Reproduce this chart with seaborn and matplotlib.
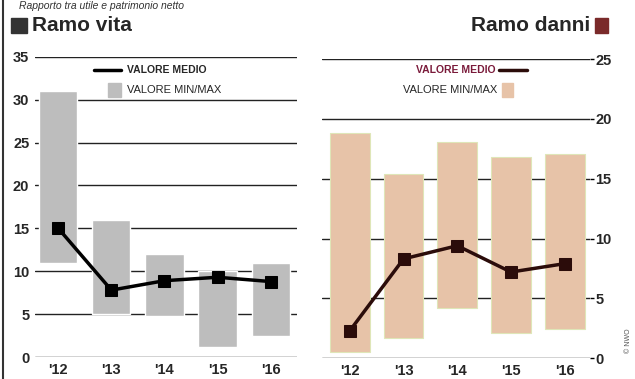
import numpy as np
import matplotlib
matplotlib.use('Agg')
import matplotlib.pyplot as plt
import seaborn as sns

# dati
anni = ["'12", "'13", "'14", "'15", "'16"]
vita_min = [11, 5, 4.8, 1.2, 2.5]
vita_max = [31, 16, 12, 10, 11]
vita_medio = [15, 7.8, 8.9, 9.3, 8.8]
danni_min = [0.5, 1.7, 4.2, 2.1, 2.4]
danni_max = [18.8, 15.4, 18.1, 16.8, 17.1]
danni_medio = [2.3, 8.3, 9.4, 7.2, 7.9]

sns.set_style('white')
plt.rcParams['font.family'] = ['Liberation Sans', 'DejaVu Sans']

grigio = '#bdbdbd'
beige = '#e7c3a8'
marrone = '#2b0c0a'

fig = plt.figure(figsize=(6.35, 3.79), dpi=100)
ax1 = fig.add_axes([0.055, 0.058, 0.413, 0.792])
ax2 = fig.add_axes([0.507, 0.055, 0.422, 0.789])

x = np.arange(len(anni))

#ramo vita
ax1.bar(x, np.array(vita_max) - np.array(vita_min), bottom=vita_min, width=0.72,
        color=grigio, zorder=2)
sns.lineplot(x=x, y=vita_medio, ax=ax1, color='black', lw=2.5, marker='s',
             markersize=9, markeredgecolor='black', zorder=3)
ax1.set_ylim(0, 35)
ax1.set_xlim(-0.44, 4.5)
ax1.set_yticks(range(0, 36, 5))
for v in range(0, 36, 5):
    ax1.axhline(v, color='#222222', lw=1, zorder=1)

#ramo danni
ax2.bar(x, np.array(danni_max) - np.array(danni_min), bottom=danni_min, width=0.74,
        color=beige, edgecolor='#dfe6b8', linewidth=0.8, zorder=2)
sns.lineplot(x=x, y=danni_medio, ax=ax2, color=marrone, lw=2.5, marker='s',
             markersize=9, markeredgecolor=marrone, zorder=3)
ax2.set_ylim(0, 25)
ax2.set_xlim(-0.52, 4.47)
ax2.set_yticks(range(0, 26, 5))
ax2.yaxis.tick_right()
for v in range(0, 26, 5):
    ax2.axhline(v, color='#222222', lw=1, zorder=1)

for ax in (ax1, ax2):
    ax.set_xticks(x)
    ax.set_xticklabels(anni)
    for s in ax.spines.values():
        s.set_visible(False)
    ax.tick_params(axis='y', length=3, width=1, color='black', pad=1,
                   labelsize=10.5)
    ax.tick_params(axis='x', length=0, pad=4, labelsize=10.5)
    for t in ax.get_xticklabels() + ax.get_yticklabels():
        t.set_fontweight('bold')
    ax.set_xlabel('')
    ax.set_ylabel('')

#titoli e legende
fig.text(0.03, 0.985, 'Rapporto tra utile e patrimonio netto', fontsize=7.5,
         style='italic', color='#333333', va='center')
fig.text(0.05, 0.932, 'Ramo vita', fontsize=15, fontweight='bold', va='center')
fig.text(0.93, 0.932, 'Ramo danni', fontsize=15, fontweight='bold', va='center',
         ha='right')
fig.patches.append(plt.Rectangle((0.018, 0.912), 0.024, 0.04, color='#333333',
                                 transform=fig.transFigure, figure=fig))
fig.patches.append(plt.Rectangle((0.937, 0.912), 0.02, 0.04, color='#7a2a2a',
                                 transform=fig.transFigure, figure=fig))

fig.text(0.2, 0.815, 'VALORE MEDIO', fontsize=7.5, fontweight='bold', va='center')
fig.add_artist(plt.Line2D([0.148, 0.19], [0.815, 0.815], color='black', lw=2.5))
fig.text(0.2, 0.762, 'VALORE MIN/MAX', fontsize=8, va='center')
fig.patches.append(plt.Rectangle((0.17, 0.745), 0.02, 0.035, color=grigio,
                                 transform=fig.transFigure, figure=fig))

fig.text(0.78, 0.815, 'VALORE MEDIO', fontsize=7.5, fontweight='bold', va='center',
         ha='right', color='#7a1a3a')
fig.add_artist(plt.Line2D([0.786, 0.83], [0.815, 0.815], color=marrone, lw=2.5))
fig.text(0.783, 0.762, 'VALORE MIN/MAX', fontsize=8, va='center', ha='right')
fig.patches.append(plt.Rectangle((0.79, 0.745), 0.018, 0.035, color=beige,
                                 transform=fig.transFigure, figure=fig))

fig.add_artist(plt.Line2D([0.004, 0.004], [0, 1], color='#333333', lw=1.5))
fig.text(0.985, 0.1, '© NWO', fontsize=5, rotation=90, color='#555555',
         va='center')

fig.savefig('out.png', dpi=100)
